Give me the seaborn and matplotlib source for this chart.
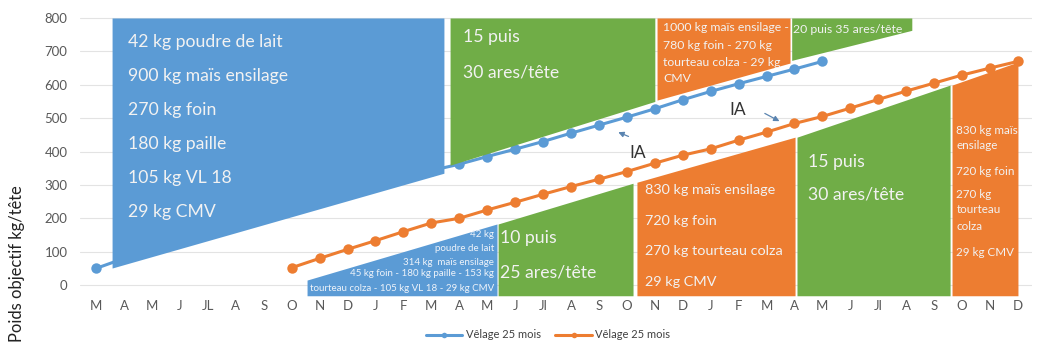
import numpy as np
import pandas as pd
import matplotlib.pyplot as plt
import seaborn as sns

# ---- data ----
month_labels = ["M", "A", "M", "J", "JL", "A", "S", "O", "N", "D",
                "J", "F", "M", "A", "M", "J", "Jl", "A", "S", "O", "N", "D",
                "J", "F", "M", "A", "M", "J", "Jl", "A", "S", "O", "N", "D"]

# months 1-12 of the blue series sit behind the blue box (estimated)
blue_months = list(range(0, 27))
blue_weight = [50, 80, 104, 128, 152, 176, 200, 224, 248, 272, 296, 320, 343,
               362, 385, 407, 430, 455, 479, 503, 528, 555, 580, 603, 625, 647, 670]

orange_months = list(range(7, 34))
orange_weight = [52, 80, 107, 133, 160, 186, 200, 225, 248, 272, 295, 317, 340,
                 365, 389, 408, 434, 458, 484, 505, 530, 556, 581, 605, 629, 650, 670]

# feeding / grazing periods as trapezoids (month index, kg)
zone_x0 = [0.57, 12.67, 20.08, 24.9, 7.55, 14.39, 19.36, 25.09, 30.64]
zone_x1 = [12.45, 20.0, 24.84, 29.2, 14.35, 19.22, 25.02, 30.57, 33.0]
zone_low0 = [51, 359, 554, 673, -32, -32, -32, -32, -32]
zone_low1 = [335, 550, 665, 763, -32, -32, -32, -32, -32]
zone_high0 = [800, 800, 800, 800, 15, 183, 308, 443, 599]
zone_high1 = [800, 800, 800, 800, 183, 305, 443, 599, 668]
zone_kind = ["lait", "herbe", "hiver", "herbe", "lait", "herbe", "hiver", "herbe", "hiver"]

BLUE = "#5B9BD5"
ORANGE = "#ED7D31"
GREEN = "#70AD47"
kind_color = {"lait": BLUE, "herbe": GREEN, "hiver": ORANGE}

sns.set_theme(style="white")
plt.rcParams["font.family"] = ["Lato", "DejaVu Sans"]

fig = plt.figure(figsize=(10.37, 3.47), dpi=100)
ax = fig.add_axes([0.0771, 0.140, 0.918, 0.813])

df_blue = pd.DataFrame({"mois": blue_months, "poids": blue_weight})
df_orange = pd.DataFrame({"mois": orange_months, "poids": orange_weight})

sns.lineplot(data=df_blue, x="mois", y="poids", ax=ax, color=BLUE, lw=2.2,
             marker="o", ms=7.5, mew=0, label="Vêlage 25 mois", zorder=2)
sns.lineplot(data=df_orange, x="mois", y="poids", ax=ax, color=ORANGE, lw=2.2,
             marker="o", ms=7.5, mew=0, label="Vêlage 25 mois", zorder=2)

for i in range(len(zone_x0)):
    ax.fill_between([zone_x0[i], zone_x1[i]], [zone_low0[i], zone_low1[i]],
                    [zone_high0[i], zone_high1[i]], color=kind_color[zone_kind[i]],
                    lw=0, zorder=3)

# ---- texts inside the zones ----
big = dict(fontsize=12.7, color="#f2f2f2", va="center", zorder=4)
for y, t in zip([728, 626, 524, 422, 321, 219],
                ["42 kg poudre de lait", "900 kg maïs ensilage", "270 kg foin",
                 "180 kg paille", "105 kg VL 18", "29 kg CMV"]):
    ax.text(1.15, y, t, **big)
ax.text(13.14, 743, "15 puis", **big)
ax.text(13.14, 638, "30 ares/tête", **big)
ax.text(14.46, 141, "10 puis", **big)
ax.text(14.46, 39, "25 ares/tête", **big)
ax.text(25.48, 368, "15 puis", **big)
ax.text(25.48, 270, "30 ares/tête", **big)

small = dict(fontsize=8.8, color="#f2f2f2", va="center", zorder=4)
for y, t in zip([770, 719, 668, 620],
                ["1000 kg maïs ensilage -", "780 kg foin - 270 kg",
                 "tourteau colza - 29 kg", "CMV"]):
    ax.text(20.3, y, t, **small)
ax.text(24.93, 764, "20 puis 35 ares/tête", **small)

for y, t in zip([285, 192, 102, 9],
                ["830 kg maïs ensilage", "720 kg foin", "270 kg tourteau colza", "29 kg CMV"]):
    ax.text(19.65, y, t, fontsize=10.4, color="#f2f2f2", va="center", zorder=4)

for y, t in zip([464, 419, 339, 270, 225, 174, 99],
                ["830 kg maïs", "ensilage", "720 kg foin", "270 kg", "tourteau", "colza", "29 kg CMV"]):
    ax.text(30.8, y, t, fontsize=8.4, color="#f2f2f2", va="center", zorder=4)

for y, t in zip([150, 111, 69, 34, -9],
                ["42 kg", "poudre de lait", "314 kg  maïs ensilage",
                 "45 kg foin - 180 kg paille - 153 kg",
                 "tourteau colza - 105 kg VL 18 - 29 kg CMV"]):
    ax.text(14.25, y, t, fontsize=7.0, color="#eef3fa", va="center", ha="right", zorder=4)

# ---- IA arrows ----
ax.text(19.4, 395, "IA", fontsize=12.5, color="#333333", ha="center", va="center", zorder=4)
ax.annotate("", xy=(18.6, 461), xytext=(19.15, 442),
            arrowprops=dict(arrowstyle="-|>", color="#5a84b0", lw=0.9, mutation_scale=8), zorder=4)
ax.text(22.98, 524, "IA", fontsize=12.5, color="#333333", ha="center", va="center", zorder=4)
ax.annotate("", xy=(24.55, 487), xytext=(23.85, 518),
            arrowprops=dict(arrowstyle="-|>", color="#5a84b0", lw=0.9, mutation_scale=8), zorder=4)

# ---- axes ----
ax.set_xlim(-0.58, 33.5)
ax.set_ylim(-40, 805)
ax.set_xticks(range(len(month_labels)))
ax.set_xticklabels(month_labels)
ax.set_yticks(range(0, 801, 100))
ax.yaxis.grid(True, color="#e3e3e3", lw=0.8, zorder=0)
ax.set_axisbelow(True)
ax.tick_params(axis="both", length=0, labelsize=9.5, labelcolor="#595959")
ax.tick_params(axis="x", pad=1)
ax.tick_params(axis="y", pad=9)
for s in ax.spines.values():
    s.set_visible(False)
ax.set_xlabel("")
ax.set_ylabel("")
fig.text(0.016, 1 - 264 / 347, "Poids objectif kg/tête", rotation=90, fontsize=11.9,
         color="#222222", ha="center", va="center")

handles, labels = ax.get_legend_handles_labels()
ax.get_legend().remove()
leg = fig.legend(handles, labels, loc="center", bbox_to_anchor=(548 / 1037, 1 - 335 / 347),
                 ncol=2, frameon=False, fontsize=8, handlelength=3.3, columnspacing=1.3,
                 handletextpad=0.3, labelcolor="#404040")
for h in leg.get_lines():
    h.set_markersize(4)

plt.savefig("out.png", dpi=100)
plt.close()
